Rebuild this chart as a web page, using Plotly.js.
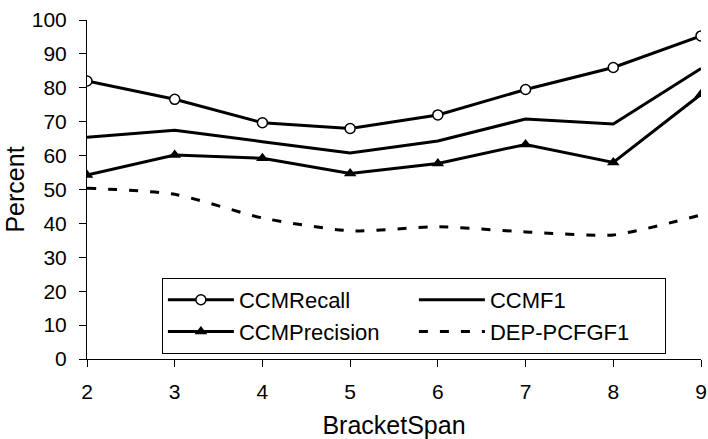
<!DOCTYPE html>
<html>
<head>
<meta charset="utf-8">
<script src="https://cdn.plot.ly/plotly-3.0.1.min.js"></script>
<style>html,body{margin:0;padding:0;background:#fff;}#chart{width:708px;height:439px;}</style>
</head>
<body>
<div id="chart"></div>
<script>
const bracketSpan = [2, 3, 4, 5, 6, 7, 8, 9];
const ccmRecall = [82.0, 76.6, 69.7, 68.0, 72.0, 79.5, 86.0, 95.3];
const ccmF1 = [65.4, 67.5, 64.1, 60.8, 64.3, 70.8, 69.3, 85.7];
const ccmPrecision = [54.3, 60.2, 59.2, 54.7, 57.7, 63.3, 58.0, 78.1];
const depPcfgF1 = [50.4, 48.6, 41.6, 37.8, 39.0, 37.5, 36.6, 42.5];
const yTicks = [0, 10, 20, 30, 40, 50, 60, 70, 80, 90, 100];

const lineStyle = {color: '#000', width: 3};
const traces = [
  {x: bracketSpan, y: ccmRecall, name: 'CCMRecall', mode: 'lines+markers', line: lineStyle,
   marker: {symbol: 'circle', size: 10, color: '#fff', line: {color: '#000', width: 1.5}}},
  {x: bracketSpan, y: ccmF1, name: 'CCMF1', mode: 'lines', line: lineStyle},
  {x: bracketSpan, y: ccmPrecision, name: 'CCMPrecision', mode: 'lines+markers', line: lineStyle,
   marker: {symbol: 'triangle-up', size: 11, color: '#000'}},
  {x: bracketSpan, y: depPcfgF1, name: 'DEP-PCFGF1', mode: 'lines',
   line: {color: '#000', width: 3, dash: '9px,12px', shape: 'spline', smoothing: 0.6}}
];

const layout = {
  width: 708, height: 439,
  margin: {l: 87, r: 7, t: 20, b: 80},
  paper_bgcolor: '#fff', plot_bgcolor: '#fff',
  font: {family: 'Liberation Sans, Arial, sans-serif', color: '#000', size: 21},
  showlegend: true,
  legend: {
    orientation: 'h', x: 0.122, y: 0.239, xanchor: 'left', yanchor: 'top',
    itemwidth: 66,
    entrywidth: 170, entrywidthmode: 'pixels',
    bgcolor: '#fff', bordercolor: '#000', borderwidth: 1,
    font: {size: 22, color: '#000'}, tracegroupgap: 0
  },
  xaxis: {
    range: [2, 9], tickvals: bracketSpan, ticktext: bracketSpan.map(String),
    showgrid: false, zeroline: false, showline: true, linecolor: '#000', linewidth: 1,
    ticks: 'outside', ticklen: 7, tickcolor: '#000', tickfont: {size: 21},
    ticklabelstandoff: 7,
    title: {text: 'BracketSpan', font: {size: 25}, standoff: 17}
  },
  yaxis: {
    range: [0, 100], tickvals: yTicks,
    showgrid: false, zeroline: false, showline: true, linecolor: '#000', linewidth: 1,
    ticks: 'outside', ticklen: 7, tickcolor: '#000', tickfont: {size: 21},
    ticklabelstandoff: 8,
    title: {text: 'Percent', font: {size: 25}, standoff: 0}
  }
};

Plotly.newPlot('chart', traces, layout, {displayModeBar: false, staticPlot: true});
</script>
</body>
</html>
